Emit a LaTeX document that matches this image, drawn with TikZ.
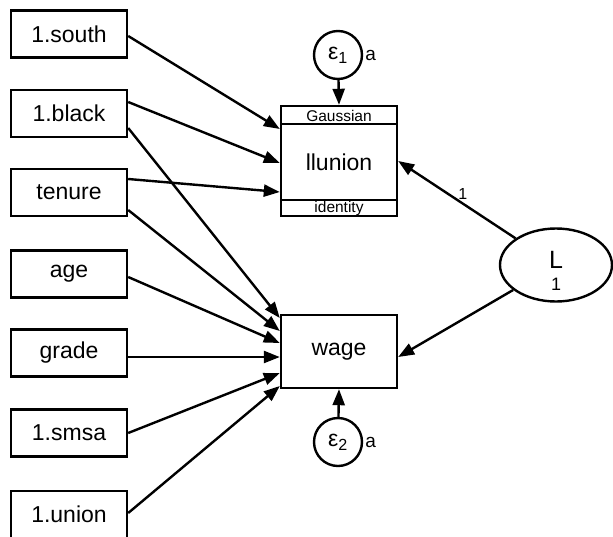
\documentclass[tikz,border=0pt]{standalone}
\usepackage{fontspec}
\setmainfont{Liberation Sans}
\usetikzlibrary{arrows.meta,shapes.geometric,calc}
\begin{document}
\begin{tikzpicture}[x=1pt,y=-1pt,
  obsbox/.style={draw,line width=2.4pt,minimum width=116pt,minimum height=47pt,inner sep=0pt,font=\fontsize{23}{27}\selectfont},
  errc/.style={draw,circle,line width=2.4pt,minimum size=48pt,inner sep=0pt,font=\fontsize{23}{27}\selectfont},
  arr/.style={line width=2.4pt,-{Triangle[length=16pt,width=12pt]}},
  small/.style={font=\fontsize{15.5}{18}\selectfont,inner sep=0pt,anchor=base}]
\useasboundingbox (0,0) rectangle (613,536);
\begin{scope}
\clip (0,0) rectangle (613,536);
% observed exogenous
\node[obsbox] (south) at (69,34) {1.south};
\node[obsbox] (black) at (69,113.5) {1.black};
\node[obsbox] (tenure) at (69,192.5) {tenure};
\node[obsbox] (age) at (69,274) {age};
\node[obsbox] (grade) at (69,353) {grade};
\node[obsbox] (smsa) at (69,433) {1.smsa};
\node[obsbox] (union) at (69,514.5) {1.union};
% endogenous
\node[draw,line width=2.4pt,minimum width=116pt,minimum height=110pt,inner sep=0pt] (ll) at (339,161) {};
\node[font=\fontsize{23}{27}\selectfont] (lltext) at (339,162) {llunion};
\draw[line width=2.4pt] ($(ll.north west)+(0,19)$) coordinate (g1) -- ($(ll.north east)+(0,19)$) coordinate (g2);
\draw[line width=2.4pt] ($(ll.south west)+(0,-17)$) coordinate (i1) -- ($(ll.south east)+(0,-17)$) coordinate (i2);
\node[small] (gauss) at (339,121) {Gaussian};
\node[small] (ident) at (339,212.5) {identity};
\node[obsbox,minimum height=73pt] (wage) at (339,351.5) {wage};
% errors
\node[errc,label={[font=\fontsize{19}{22}\selectfont,label distance=1pt,inner sep=1pt]right:a}] (e1) at (338,55) {ε\textsubscript{1}};
\node[errc,label={[font=\fontsize{19}{22}\selectfont,label distance=1pt,inner sep=1pt]right:a}] (e2) at (338,442) {ε\textsubscript{2}};
% latent
\node[draw,ellipse,line width=2.4pt,minimum width=112pt,minimum height=73pt,inner sep=0pt] (L) at (556,265) {};
\node[font=\fontsize{25}{28}\selectfont,inner sep=0pt] (Ltext) at (556,260) {L};
\node[font=\fontsize{18}{20}\selectfont,inner sep=0pt] (Lone) at (556,284) {1};
% paths to llunion
\draw[arr] ($(south.east)+(0,2)$) -- ($(ll.west)+(0,-32)$);
\draw[arr] ($(black.east)+(0,-11.5)$) -- ($(ll.west)+(0,2)$);
\draw[arr] ($(tenure.east)+(0,-13.5)$) -- ($(ll.west)+(0,31)$);
% paths to wage
\draw[arr] ($(black.east)+(0,14.5)$) -- ($(wage.west)+(0,-33.5)$);
\draw[arr] ($(tenure.east)+(0,17.5)$) -- ($(wage.west)+(0,-20.5)$);
\draw[arr] ($(age.east)+(0,3)$) -- ($(wage.west)+(0,-8.5)$);
\draw[arr] ($(grade.east)+(0,4)$) -- ($(wage.west)+(0,5.5)$);
\draw[arr] ($(smsa.east)+(0,0)$) -- ($(wage.west)+(0,21.5)$);
\draw[arr] ($(union.east)+(0,-1.5)$) -- ($(wage.west)+(0,34.5)$);
% error paths
\draw[arr] (e1) -- (ll.north);
\draw[arr] (e2) -- (wage.south);
% latent paths
\draw[arr] (L) -- node[pos=0.45,above,font=\fontsize{16}{18}\selectfont,inner sep=3pt] {1} (ll.east);
\draw[arr] (L) -- ($(wage.east)+(0,5.5)$);
\end{scope}
\end{tikzpicture}
\end{document}
